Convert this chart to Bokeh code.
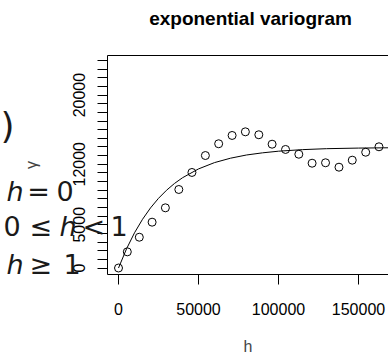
from bokeh.plotting import figure
from bokeh.models import FixedTicker, LinearAxis, Label
from bokeh.embed import file_html
from bokeh.resources import INLINE

h_emp = [0, 5500, 13000, 21000, 29300, 37700, 45900, 54300, 62600, 71000, 79300,
         87700, 96000, 104400, 112700, 121000, 129400, 137800, 146100, 154500, 162800]
gamma_emp = [0, 1870, 3560, 5300, 6960, 9080, 11050, 13010, 14370, 15330, 15750,
             15410, 14320, 13710, 13160, 12120, 12170, 11660, 12470, 13390, 14020]

# fitted exponential model curve
h_fit = [0, 5000, 10000, 15000, 20000, 25000, 30000, 35000, 40000, 50000, 60000,
         70000, 80000, 90000, 100000, 115000, 130000, 150000, 172000]
gamma_fit = [0, 2210, 4070, 5630, 6950, 8060, 8990, 9780, 10440, 11460, 12190,
             12700, 13070, 13320, 13510, 13690, 13800, 13870, 13910]

x_ticks = [0, 50000, 100000, 150000]
x_tick_labels = ["0", "50000", "100000", "150000"]
y_ticks = list(range(0, 25000, 1000))
y_tick_labels = {0: "0", 5000: "5000", 12000: "12000", 20000: "20000"}

# plot box (data units) and full canvas ranges
BOX_X = (-6875, 168750)
BOX_Y = (-752, 24578)

FONT = "Liberation Sans"

p = figure(width=388, height=355, output_backend="svg", toolbar_location=None,
           x_range=(-73750, 168750), y_range=(-10120, 30939),
           min_border=0, min_border_left=0, min_border_right=0,
           min_border_top=0, min_border_bottom=0)
p.outline_line_color = None
p.xgrid.visible = False
p.ygrid.visible = False
p.background_fill_color = "white"
p.border_fill_color = "white"

xa = p.xaxis[0]
xa.fixed_location = BOX_Y[0]
xa.bounds = BOX_X
xa.ticker = FixedTicker(ticks=x_ticks)
xa.major_label_overrides = dict(zip(x_ticks, x_tick_labels))
xa.axis_label = "h"
xa.axis_label_text_font = FONT
xa.axis_label_text_font_size = "16px"
xa.axis_label_text_font_style = "normal"
xa.axis_label_standoff = 20
xa.major_label_text_font = FONT
xa.major_label_text_font_size = "16px"
xa.major_label_standoff = 18
xa.major_tick_out = 10
xa.major_tick_in = 0
xa.minor_tick_line_color = None
xa.axis_line_color = "black"
xa.major_tick_line_color = "black"
xa.major_label_text_color = "black"

ya = p.yaxis[0]
ya.fixed_location = BOX_X[0]
ya.bounds = BOX_Y
ya.ticker = FixedTicker(ticks=y_ticks)
ya.major_label_overrides = {t: y_tick_labels.get(t, "") for t in y_ticks}
ya.major_label_orientation = "vertical"
ya.axis_label = "γ"
ya.axis_label_text_font = FONT
ya.axis_label_text_font_size = "16px"
ya.axis_label_text_font_style = "normal"
ya.axis_label_standoff = 31
ya.major_label_text_font = FONT
ya.major_label_text_font_size = "16px"
ya.major_label_standoff = 12
ya.major_tick_out = 10
ya.major_tick_in = 0
ya.minor_tick_line_color = None
ya.axis_line_color = "black"
ya.major_tick_line_color = "black"
ya.major_label_text_color = "black"

top = LinearAxis(ticker=FixedTicker(ticks=[]), fixed_location=BOX_Y[1], bounds=BOX_X,
                 axis_line_color="black",
                 major_tick_line_color=None, minor_tick_line_color=None,
                 major_tick_out=0, major_tick_in=0, major_label_standoff=0,
                 major_label_text_font_size="0px")
p.add_layout(top, "above")

p.line(h_fit, gamma_fit, line_color="black", line_width=1)
p.scatter(h_emp, gamma_emp, marker="circle", size=8, fill_color=None,
          line_color="black", line_width=1)

# title
p.add_layout(Label(x=82500, y=28857, text="exponential variogram", text_font=FONT,
                   text_font_size="19px", text_font_style="bold", text_color="black",
                   text_align="center", text_baseline="alphabetic"))

# overlapping formula fragments at the left edge
FF = "DejaVu Sans"
COL = "#1a1a1a"
pieces = [
    (")", -73750, 16484, "normal", "36px"),
    ("h", -70000, 8886, "italic", "27px"),
    ("=", -57000, 8886, "normal", "27px"),
    ("0", -38750, 8886, "normal", "27px"),
    ("0", -71875, 4803, "normal", "27px"),
    ("≤", -55600, 4803, "normal", "27px"),
    ("h", -36875, 4803, "italic", "27px"),
    ("<", -22500, 4803, "normal", "27px"),
    ("1", -5000, 4803, "normal", "27px"),
    ("h", -70000, 443, "italic", "27px"),
    ("≥", -55600, 443, "normal", "27px"),
    ("1", -34400, 443, "normal", "27px"),
]
for txt, hx, gy, style, size in pieces:
    p.add_layout(Label(x=hx, y=gy, text=txt, text_font=FF, text_font_size=size,
                       text_font_style=style, text_color=COL,
                       text_align="left", text_baseline="alphabetic"))

open("out.html", "w").write(file_html(p, INLINE))
